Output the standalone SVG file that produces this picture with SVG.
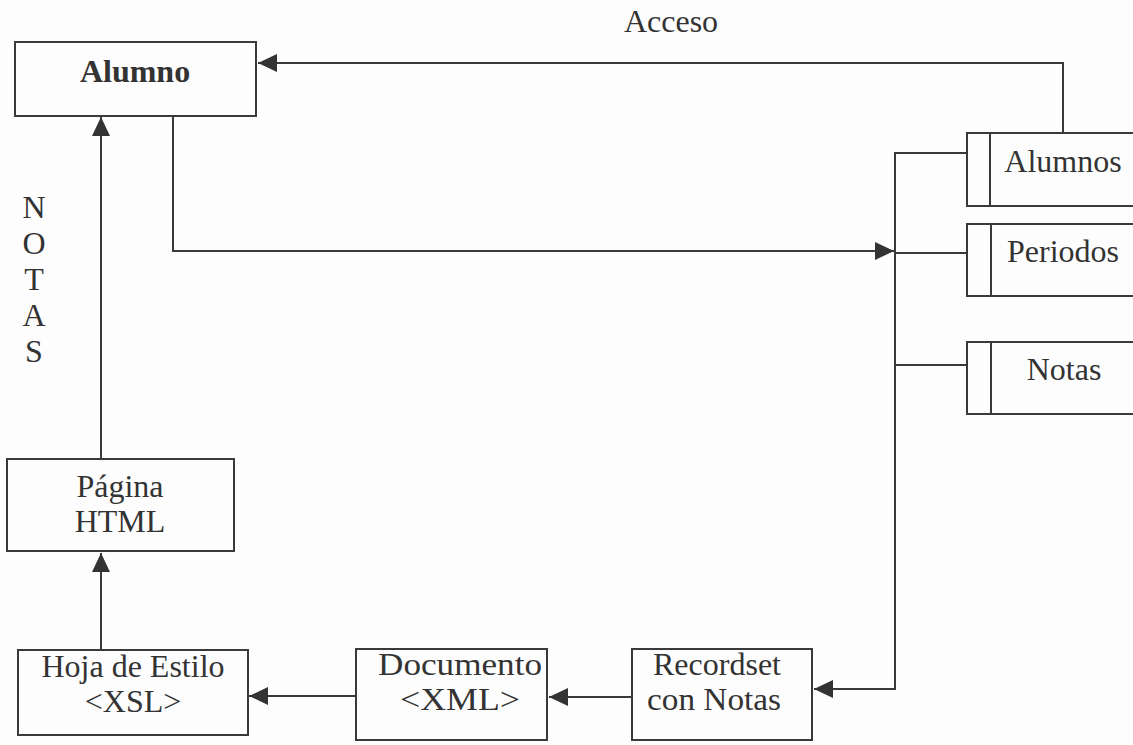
<svg xmlns="http://www.w3.org/2000/svg" width="1133" height="745" viewBox="0 0 1133 745">
  <style>
    .box { fill: none; stroke: #3a3a3a; stroke-width: 2; }
    .wire { fill: none; stroke: #3a3a3a; stroke-width: 2; }
    .lbl { font-family: "Liberation Serif", "Times New Roman", serif; font-size: 32px; fill: #333; text-anchor: middle; }
    .bold { font-weight: bold; }
  </style>
  <defs>
    <marker id="head" markerUnits="userSpaceOnUse" markerWidth="20" markerHeight="20" refX="19" refY="9" orient="auto">
      <path d="M0,0 L19,9 L0,18 Z" fill="#333"/>
    </marker>
  </defs>
  <rect width="1133" height="745" fill="#fdfdfd"/>

  <!-- connectors -->
  <g id="connectors">
    <path class="wire" d="M1063,133 V63 H258" marker-end="url(#head)"/>
    <text class="lbl" x="671" y="32">Acceso</text>
    <path class="wire" d="M101,459 V117" marker-end="url(#head)"/>
    <path class="wire" d="M173,116 V251 H894" marker-end="url(#head)"/>
    <path class="wire" d="M967,153 H895 V689 H814" marker-end="url(#head)"/>
    <path class="wire" d="M895,253 H967 M895,365 H967"/>
    <path class="wire" d="M101,650 V553" marker-end="url(#head)"/>
    <path class="wire" d="M356,696 H249" marker-end="url(#head)"/>
    <path class="wire" d="M632,697 H549" marker-end="url(#head)"/>
    <!-- vertical label on the upward link -->
    <g class="lbl">
      <text x="34" y="218">N</text>
      <text x="34" y="254">O</text>
      <text x="34" y="290">T</text>
      <text x="34" y="326">A</text>
      <text x="34" y="362">S</text>
    </g>
  </g>

  <!-- process boxes -->
  <g id="alumno">
    <rect class="box" x="15" y="42" width="241" height="74"/>
    <text class="lbl bold" x="135" y="82">Alumno</text>
  </g>
  <g id="pagina-html">
    <rect class="box" x="7" y="459" width="227" height="92"/>
    <text class="lbl" x="120" y="497">Página</text>
    <text class="lbl" x="120" y="532">HTML</text>
  </g>
  <g id="hoja-estilo">
    <rect class="box" x="18" y="650" width="230" height="85"/>
    <text class="lbl" x="133" y="677">Hoja de Estilo</text>
    <text class="lbl" x="133" y="712">&lt;XSL&gt;</text>
  </g>
  <g id="documento-xml">
    <rect class="box" x="356" y="649" width="191" height="91"/>
    <text class="lbl" x="460" y="675" textLength="164" lengthAdjust="spacingAndGlyphs">Documento</text>
    <text class="lbl" x="460" y="710" textLength="120" lengthAdjust="spacingAndGlyphs">&lt;XML&gt;</text>
  </g>
  <g id="recordset">
    <rect class="box" x="632" y="649" width="180" height="91"/>
    <text class="lbl" x="717" y="675">Recordset</text>
    <text class="lbl" x="714" y="710" textLength="134" lengthAdjust="spacingAndGlyphs">con Notas</text>
  </g>

  <!-- data stores -->
  <g id="store-alumnos">
    <rect class="box" x="967" y="133" width="180" height="73"/>
    <line class="box" x1="990" y1="133" x2="990" y2="206"/>
    <text class="lbl" x="1063" y="172">Alumnos</text>
  </g>
  <g id="store-periodos">
    <rect class="box" x="967" y="224" width="180" height="72"/>
    <line class="box" x1="991" y1="224" x2="991" y2="296"/>
    <text class="lbl" x="1063" y="262">Periodos</text>
  </g>
  <g id="store-notas">
    <rect class="box" x="967" y="342" width="180" height="72"/>
    <line class="box" x1="991" y1="342" x2="991" y2="414"/>
    <text class="lbl" x="1064" y="380">Notas</text>
  </g>
</svg>
